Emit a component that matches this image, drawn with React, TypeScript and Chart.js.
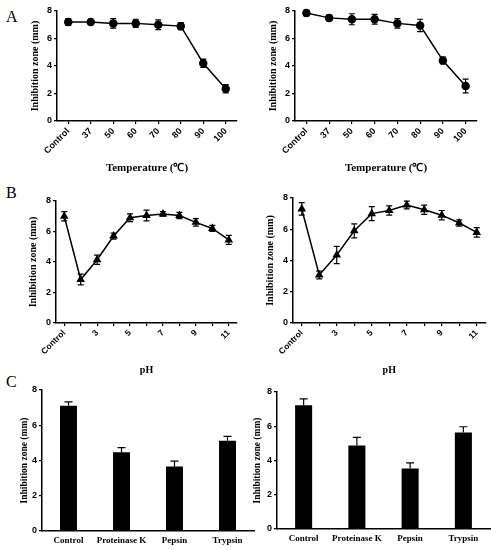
import { useEffect, useRef } from "react"
import { Chart, registerables } from "chart.js"

Chart.register(...registerables)
Chart.defaults.color = "#000"

const SANS = "Arial, 'Liberation Sans', sans-serif"
const SERIF = "'Times New Roman', 'Liberation Serif', serif"

// A: temperature
const tempLabels = ["Control", "37", "50", "60", "70", "80", "90", "100"]
const tempLeft = [7.2, 7.2, 7.1, 7.1, 7.0, 6.9, 4.2, 2.35]
const tempLeftErr = [0.25, 0.2, 0.35, 0.3, 0.35, 0.25, 0.3, 0.3]
const tempRight = [7.85, 7.5, 7.4, 7.4, 7.1, 6.95, 4.4, 2.55]
const tempRightErr = [0.2, 0.2, 0.4, 0.35, 0.35, 0.45, 0.25, 0.5]

// B: pH
const phLabels = ["Control", "2", "3", "4", "5", "6", "7", "8", "9", "10", "11"]
const phLeft = [7.0, 2.85, 4.15, 5.7, 6.9, 7.05, 7.15, 7.05, 6.6, 6.2, 5.45]
const phLeftErr = [0.3, 0.35, 0.3, 0.2, 0.25, 0.35, 0.15, 0.2, 0.25, 0.2, 0.3]
const phRight = [7.3, 3.07, 4.35, 5.9, 7.0, 7.2, 7.55, 7.25, 6.9, 6.4, 5.8]
const phRightErr = [0.4, 0.25, 0.55, 0.45, 0.45, 0.3, 0.25, 0.3, 0.3, 0.2, 0.3]

// C: enzymes
const enzymeLabels = ["Control", "Proteinase K", "Pepsin", "Trypsin"]
const enzymeLeft = [7.1, 4.47, 3.66, 5.12]
const enzymeLeftErr = [0.23, 0.26, 0.3, 0.25]
const enzymeRight = [7.23, 4.88, 3.53, 5.64]
const enzymeRightErr = [0.37, 0.47, 0.33, 0.33]

const yTitle = "Inhibition zone (mm)"

// draws error bars for the first dataset from plugin options
const errorBarPlugin = {
  id: "errorBars",
  afterDatasetsDraw(chart: any, _args: any, opts: any) {
    const { ctx } = chart
    const y = chart.scales.y
    const meta = chart.getDatasetMeta(0)
    const values = chart.data.datasets[0].data as number[]
    ctx.save()
    ctx.strokeStyle = "#000"
    ctx.lineWidth = opts.lineWidth || 1.2
    meta.data.forEach((el: any, i: number) => {
      const v = values[i]
      const e = opts.errors[i]
      const yTop = y.getPixelForValue(v + e)
      const yBot = y.getPixelForValue(opts.upOnly ? v : v - e)
      const w = opts.cap
      ctx.beginPath()
      ctx.moveTo(el.x, yTop)
      ctx.lineTo(el.x, yBot)
      ctx.moveTo(el.x - w, yTop)
      ctx.lineTo(el.x + w, yTop)
      if (!opts.upOnly) {
        ctx.moveTo(el.x - w, yBot)
        ctx.lineTo(el.x + w, yBot)
      }
      ctx.stroke()
    })
    ctx.restore()
  },
}

function yScale(titleSize: number) {
  return {
    min: 0,
    max: 8,
    ticks: { stepSize: 2, padding: 2, font: { family: SANS, size: 9, weight: "bold" } },
    grid: { drawOnChartArea: false, tickLength: 3, color: "#000", lineWidth: 1.2 },
    border: { color: "#000", width: 1.5 },
    title: {
      display: true,
      text: yTitle,
      padding: 0,
      font: { family: SERIF, size: titleSize, weight: "bold" },
    },
  }
}

function lineConfig(
  labels: string[],
  values: number[],
  errors: number[],
  pointStyle: string,
  xTitle: string,
  everyOther: boolean
) {
  return {
    type: "line",
    data: {
      labels,
      datasets: [
        {
          data: values,
          borderColor: "#000",
          borderWidth: 1.5,
          pointStyle,
          pointRadius: 3.5,
          pointBackgroundColor: "#000",
          pointBorderColor: "#000",
          tension: 0,
          clip: false,
        },
      ],
    },
    options: {
      animation: false,
      responsive: true,
      maintainAspectRatio: false,
      plugins: {
        legend: { display: false },
        tooltip: { enabled: false },
        errorBars: { errors, cap: 3, lineWidth: 1.2 },
      },
      scales: {
        x: {
          type: "category",
          offset: true,
          grid: { drawOnChartArea: false, tickLength: 3, color: "#000", lineWidth: 1.2 },
          border: { color: "#000", width: 1.5 },
          ticks: {
            autoSkip: false,
            minRotation: 45,
            maxRotation: 45,
            padding: 2,
            font: { family: SANS, size: everyOther ? 8.5 : 9, weight: "bold" },
            callback: (_v: any, i: number) => (everyOther && i % 2 === 1 ? "" : labels[i]),
          },
          title: {
            display: true,
            text: xTitle,
            padding: 0,
            font: { family: SERIF, size: everyOther ? 10 : 11, weight: "bold" },
          },
        },
        y: yScale(10),
      },
    },
    plugins: [errorBarPlugin],
  }
}

function barConfig(values: number[], errors: number[]) {
  return {
    type: "bar",
    data: {
      labels: enzymeLabels,
      datasets: [
        {
          data: values,
          backgroundColor: "#000",
          borderWidth: 0,
          barPercentage: 0.32,
          categoryPercentage: 1,
        },
      ],
    },
    options: {
      animation: false,
      responsive: true,
      maintainAspectRatio: false,
      plugins: {
        legend: { display: false },
        tooltip: { enabled: false },
        errorBars: { errors, cap: 4, lineWidth: 1.2, upOnly: true },
      },
      scales: {
        x: {
          grid: { display: false, drawTicks: false },
          border: { color: "#000", width: 1.5 },
          ticks: {
            autoSkip: false,
            minRotation: 0,
            maxRotation: 0,
            padding: 4,
            font: { family: SERIF, size: 9, weight: "bold" },
          },
        },
        y: yScale(9.5),
      },
    },
    plugins: [errorBarPlugin],
  }
}

interface Box {
  left: number
  top: number
  width: number
  height: number
}

interface Area {
  l: number
  t: number
  r: number
  b: number
}

function ChartPanel({ box, area, make }: { box: Box; area: Area; make: () => any }) {
  const canvasRef = useRef<HTMLCanvasElement>(null)

  useEffect(() => {
    if (!canvasRef.current) return
    const yWidth = area.l - box.left
    const xHeight = box.top + box.height - area.b
    const cfg = make()
    cfg.options.layout = {
      padding: { left: 0, top: area.t - box.top, right: box.left + box.width - area.r, bottom: 0 },
    }
    cfg.options.scales.x.afterFit = (s: any) => {
      s.height = xHeight
      s.paddingLeft = 0
      s.paddingRight = 0
    }
    cfg.options.scales.y.afterFit = (s: any) => {
      s.width = yWidth
      s.paddingTop = 0
      s.paddingBottom = 0
    }
    const chart = new Chart(canvasRef.current, cfg)
    return () => chart.destroy()
  }, [])

  return (
    <div style={{ position: "absolute", left: box.left, top: box.top, width: box.width, height: box.height }}>
      <canvas ref={canvasRef} />
    </div>
  )
}

function Letter({ text, top }: { text: string; top: number }) {
  return (
    <div
      style={{
        position: "absolute",
        left: 6,
        top,
        fontFamily: SERIF,
        fontSize: 16,
        lineHeight: "16px",
      }}
    >
      {text}
    </div>
  )
}

export default function App() {
  return (
    <div style={{ position: "absolute", left: 0, top: 0, width: 491, height: 550, background: "#fff", overflow: "hidden" }}>
      <Letter text="A" top={9} />
      <Letter text="B" top={185} />
      <Letter text="C" top={374} />
      <ChartPanel
        box={{ left: 29, top: 0, width: 216, height: 175 }}
        area={{ l: 57, t: 11, r: 237, b: 121 }}
        make={() => lineConfig(tempLabels, tempLeft, tempLeftErr, "circle", "Temperature (℃)", false)}
      />
      <ChartPanel
        box={{ left: 267, top: 0, width: 224, height: 175 }}
        area={{ l: 295, t: 11, r: 477, b: 121 }}
        make={() => lineConfig(tempLabels, tempRight, tempRightErr, "circle", "Temperature (℃)", false)}
      />
      <ChartPanel
        box={{ left: 27, top: 180, width: 218, height: 196 }}
        area={{ l: 56, t: 201, r: 237, b: 323 }}
        make={() => lineConfig(phLabels, phLeft, phLeftErr, "triangle", "pH", true)}
      />
      <ChartPanel
        box={{ left: 264, top: 180, width: 227, height: 196 }}
        area={{ l: 293, t: 198, r: 487, b: 323 }}
        make={() => lineConfig(phLabels, phRight, phRightErr, "triangle", "pH", true)}
      />
      <ChartPanel
        box={{ left: 19, top: 380, width: 240, height: 170 }}
        area={{ l: 42, t: 390, r: 254, b: 531 }}
        make={() => barConfig(enzymeLeft, enzymeLeftErr)}
      />
      <ChartPanel
        box={{ left: 252, top: 380, width: 239, height: 170 }}
        area={{ l: 277, t: 392, r: 490, b: 529 }}
        make={() => barConfig(enzymeRight, enzymeRightErr)}
      />
    </div>
  )
}
